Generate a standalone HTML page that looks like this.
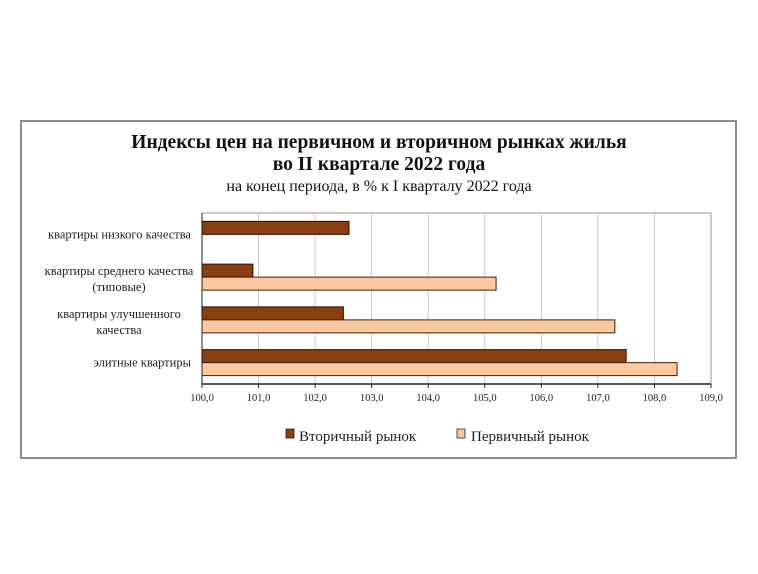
<!DOCTYPE html>
<html><head><meta charset="utf-8"><style>
body{margin:0;background:#fff;width:758px;height:569px;overflow:hidden;font-family:"Liberation Serif",serif}
</style></head><body>
<svg width="758" height="569" xmlns="http://www.w3.org/2000/svg">
<rect x="21" y="121" width="715" height="337" fill="#fff" stroke="#8c8c8c" stroke-width="2"/>
<text x="379" y="148" text-anchor="middle" font-size="19.5" font-weight="bold" fill="#111">Индексы цен на первичном и вторичном рынках жилья</text>
<text x="379" y="170" text-anchor="middle" font-size="19.5" font-weight="bold" fill="#111">во II квартале 2022 года</text>
<text x="379" y="191" text-anchor="middle" font-size="16" fill="#111">на конец периода, в % к I кварталу 2022 года</text>
<g id="plot"></g>
<g>
<rect x="286" y="429" width="8" height="9" fill="#8b3e10" stroke="#222" stroke-width="0.8"/>
<text x="299" y="441" font-size="15" fill="#222">Вторичный рынок</text>
<rect x="457" y="429" width="8" height="9" fill="#fbc9a0" stroke="#222" stroke-width="0.8"/>
<text x="471" y="441" font-size="15" fill="#222">Первичный рынок</text>
</g>
</svg>
<script>
const categories=[["квартиры низкого качества"],["квартиры среднего качества","(типовые)"],["квартиры улучшенного","качества"],["элитные квартиры"]];
const secondary=[102.6,100.9,102.5,107.5];
const primary=[null,105.2,107.3,108.4];
const ticks=[100,101,102,103,104,105,106,107,108,109];
const NS="http://www.w3.org/2000/svg";
const X0=202,X1=711,Y0=213,Y1=384,xmin=100,xmax=109;
const xs=v=>X0+(v-xmin)/(xmax-xmin)*(X1-X0);
const band=(Y1-Y0)/categories.length;
const g=document.getElementById('plot');
function mk(t,a){const e=document.createElementNS(NS,t);for(const k in a)e.setAttribute(k,a[k]);g.appendChild(e);return e;}
let r=mk('rect',{x:X0,y:Y0,width:X1-X0,height:Y1-Y0,fill:'none',stroke:'#999','stroke-width':1});


ticks.forEach((t,i)=>{
  const x=xs(t);
  if(i>0&&i<ticks.length-1){const l=mk('line',{x1:x,x2:x,y1:Y0,y2:Y1,stroke:'#c8c8c8','stroke-width':1});
  
  }
  const tk=mk('line',{x1:x,x2:x,y1:Y1,y2:Y1+4,stroke:'#222','stroke-width':1});
  
  
  const tx=mk('text',{x:x,y:Y1+17,'text-anchor':'middle','font-size':10.5,fill:'#222'});
  tx.textContent=t.toFixed(1).replace('.',',');
  
  
});
const ax=mk('line',{x1:X0,x2:X1,y1:Y1,y2:Y1,stroke:'#222','stroke-width':1.5});


const ay=mk('line',{x1:X0,x2:X0,y1:Y0,y2:Y1,stroke:'#222','stroke-width':1});


const bh=13;
categories.forEach((c,i)=>{
  const cy=Y0+band*(i+0.5);
  const ly=c.length===1?[cy+4]:[cy-2,cy+14];
  c.forEach((s,j)=>{const t=mk('text',{x:119,y:ly[j],'text-anchor':'middle','font-size':12.5,fill:'#222'});
    if(c.length===1){t.setAttribute('x',191);t.setAttribute('text-anchor','end');}
    t.textContent=s;
    
    });
  if(secondary[i]!=null){const b=mk('rect',{x:X0,y:cy-bh,width:xs(secondary[i])-X0,height:bh,fill:'#8b3e10',stroke:'#2a1205','stroke-width':1});
    
    }
  if(primary[i]!=null){const b=mk('rect',{x:X0,y:cy,width:xs(primary[i])-X0,height:bh,fill:'#fbc9a0',stroke:'#3a2010','stroke-width':1});
    
    }
});
</script>
</body></html>
